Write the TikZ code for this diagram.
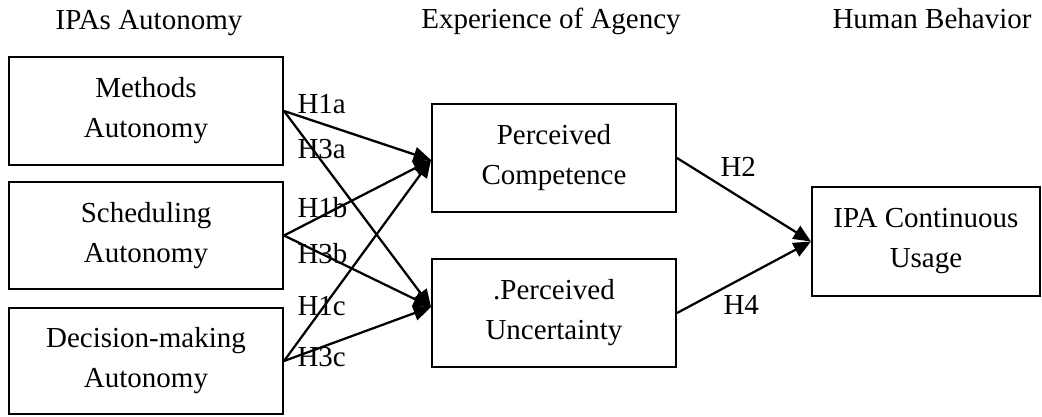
\documentclass[tikz,border=0pt]{standalone}
\usepackage{fontspec}
\setmainfont{Liberation Serif}
\usetikzlibrary{arrows.meta}

\tikzset{
  box/.style={draw, line width=0.8pt, align=center, inner sep=0pt,
    font=\fontsize{11.6pt}{16pt}\selectfont},
  hyp/.style={anchor=west, inner sep=0pt, font=\fontsize{11.6pt}{14pt}\selectfont},
  head/.style={anchor=base, inner sep=0pt, font=\fontsize{11.6pt}{14pt}\selectfont},
  arr/.style={line width=0.9pt, -{Triangle[length=7pt,width=6pt]}}
}

\begin{document}
\begin{tikzpicture}[x=0.4pt,y=-0.4pt]
\useasboundingbox (0,0) rectangle (1042,416);

% column titles
\node[head] (t1) at (149,29) {IPAs Autonomy};
\node[head] (t2) at (551,28) {Experience of Agency};
\node[head] (t3) at (932,28) {Human Behavior};

% left column
\node[box, minimum width=109.6pt, minimum height=43.2pt] (mauto) at (146,111) {Methods\\Autonomy};
\node[box, minimum width=109.6pt, minimum height=42.8pt] (sauto) at (146,235.5) {Scheduling\\Autonomy};
\node[box, minimum width=109.6pt, minimum height=42.4pt] (dauto) at (146,361) {Decision-making\\Autonomy};

% middle column
\node[box, minimum width=97.6pt, minimum height=43.2pt] (pc) at (554,158) {Perceived\\Competence};
\node[box, minimum width=97.6pt, minimum height=43.2pt] (pu) at (554,313) {.Perceived\\Uncertainty};

% right column
\node[box, minimum width=91.2pt, minimum height=43.6pt] (iu) at (926,241.5) {IPA Continuous\\Usage};

% paths
\draw[arr] (mauto.east) -- ([yshift=-0.8pt]pc.west);
\draw[arr] (sauto.east) -- ([yshift=-0.8pt]pc.west);
\draw[arr] (dauto.east) -- ([yshift=-0.8pt]pc.west);
\draw[arr] (mauto.east) -- ([yshift=2.4pt]pu.west);
\draw[arr] (sauto.east) -- ([yshift=2.4pt]pu.west);
\draw[arr] (dauto.east) -- ([yshift=2.4pt]pu.west);
\draw[arr] (pc.east) -- (iu.west);
\draw[arr] (pu.east) -- (iu.west);

% hypotheses
\node[hyp] (h1a) at (297,104) {H1a};
\node[hyp] (h3a) at (297,149) {H3a};
\node[hyp] (h1b) at (297,208) {H1b};
\node[hyp] (h3b) at (297,254) {H3b};
\node[hyp] (h1c) at (297,306) {H1c};
\node[hyp] (h3c) at (297,357) {H3c};
\node[hyp] (h2) at (720,167) {H2};
\node[hyp] (h4) at (723,305) {H4};
\end{tikzpicture}
\end{document}
